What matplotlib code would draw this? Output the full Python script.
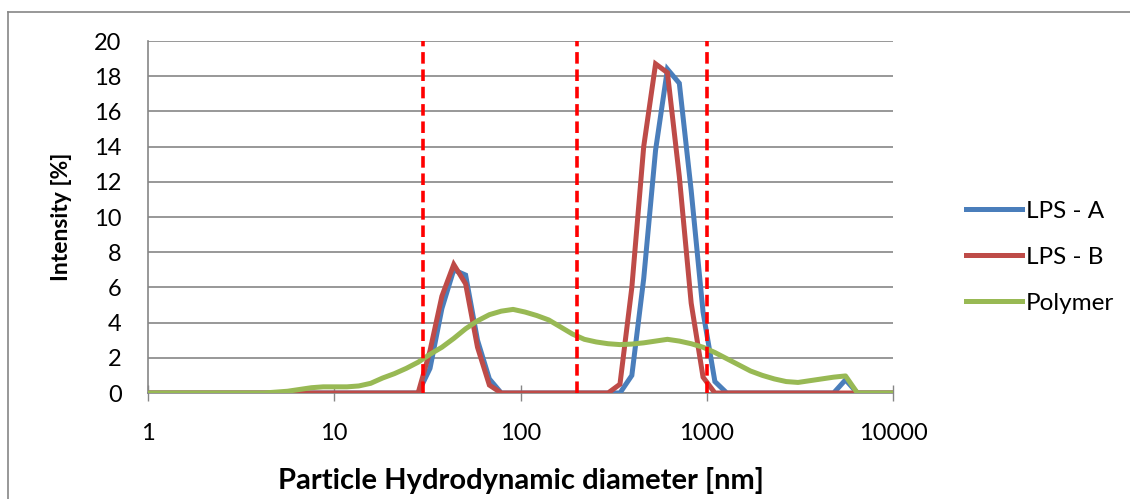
"""DLS intensity size distributions for LPS samples and the polymer."""

import matplotlib
matplotlib.use("Agg")
import matplotlib.pyplot as plt
from matplotlib.lines import Line2D
from matplotlib.ticker import FixedLocator, NullLocator

plt.rcParams["font.family"] = ["Lato", "DejaVu Sans"]

# Size classes of the instrument (nm)
SIZES_NM = [
    0.9649, 1.117, 1.294, 1.499, 1.736, 2.010, 2.328, 2.696,
    3.122, 3.615, 4.187, 4.849, 5.615, 6.503, 7.531, 8.721,
    10.10, 11.70, 13.54, 15.69, 18.17, 21.04, 24.36, 28.21,
    32.67, 37.84, 43.82, 50.75, 58.77, 68.06, 78.82, 91.28,
    105.7, 122.4, 141.8, 164.2, 190.1, 220.2, 255.0, 295.3,
    342.0, 396.1, 458.7, 531.2, 615.1, 712.4, 825.0, 955.4,
    1106, 1281, 1484, 1718, 1990, 2305, 2669, 3091,
    3580, 4145, 4801, 5560, 6439, 7456, 8635, 10000,
]

LPS_A = [
    0, 0, 0, 0, 0, 0, 0, 0,
    0, 0, 0, 0, 0, 0, 0, 0,
    0, 0, 0, 0, 0, 0, 0, 0,
    1.4, 4.8, 7.0, 6.7, 3.0, 0.8, 0, 0,
    0, 0, 0, 0, 0, 0, 0, 0,
    0, 1.0, 6.5, 13.8, 18.4, 17.6, 11.5, 4.6,
    0.65, 0, 0, 0, 0, 0, 0, 0,
    0, 0, 0, 0.75, 0, 0, 0, 0,
]

LPS_B = [
    0, 0, 0, 0, 0, 0, 0, 0,
    0, 0, 0, 0, 0, 0, 0, 0,
    0, 0, 0, 0, 0, 0, 0, 0,
    2.4, 5.5, 7.3, 6.2, 2.6, 0.45, 0, 0,
    0, 0, 0, 0, 0, 0, 0, 0,
    0.5, 6.0, 14.0, 18.7, 18.2, 12.3, 5.1, 0.9,
    0, 0, 0, 0, 0, 0, 0, 0,
    0, 0, 0, 0, 0, 0, 0, 0,
]

POLYMER = [
    0, 0, 0, 0, 0, 0, 0, 0,
    0, 0, 0, 0.05, 0.1, 0.2, 0.3, 0.35,
    0.35, 0.35, 0.4, 0.55, 0.85, 1.1, 1.4, 1.75,
    2.2, 2.6, 3.1, 3.65, 4.1, 4.45, 4.65, 4.75,
    4.6, 4.4, 4.15, 3.75, 3.35, 3.05, 2.9, 2.8,
    2.75, 2.78, 2.85, 2.95, 3.05, 2.95, 2.8, 2.6,
    2.3, 1.95, 1.6, 1.25, 1.0, 0.8, 0.65, 0.6,
    0.7, 0.8, 0.9, 0.97, 0, 0, 0, 0,
]

# Size cut-offs marked on the plot (nm)
CUTOFFS_NM = [30, 200, 1000]

X_TICKS = [1, 10, 100, 1000, 10000]
Y_TICKS = list(range(0, 21, 2))

BLUE = "#4A7EBB"
RED = "#BE4B48"
GREEN = "#98B954"
GRID = "#868686"

fig = plt.figure(figsize=(11.3, 4.99), dpi=100)
ax = fig.add_axes([148 / 1130, 1 - 393 / 499, (893 - 148) / 1130, (393 - 41) / 499])

ax.plot(SIZES_NM, LPS_A, color=BLUE, lw=3.6, label="LPS - A", solid_joinstyle="miter", zorder=3)
ax.plot(SIZES_NM, LPS_B, color=RED, lw=3.6, label="LPS - B", solid_joinstyle="miter", zorder=4)
ax.plot(SIZES_NM, POLYMER, color=GREEN, lw=3.6, label="Polymer", zorder=5)

for c in CUTOFFS_NM:
    ax.axvline(c, color="#FF0000", lw=2.6, dashes=(3.2, 1.6), zorder=6)

ax.set_xscale("log")
ax.set_xlim(1, 10000)
ax.set_ylim(0, 20)
ax.xaxis.set_major_locator(FixedLocator(X_TICKS))
ax.xaxis.set_minor_locator(NullLocator())
ax.set_xticklabels([str(t) for t in X_TICKS])
ax.set_yticks(Y_TICKS)

ax.grid(axis="y", color=GRID, lw=1.2, zorder=0)
for side in ("top", "right"):
    ax.spines[side].set_visible(False)
for side in ("left", "bottom"):
    ax.spines[side].set_color(GRID)
    ax.spines[side].set_linewidth(1.2)

ax.tick_params(axis="x", direction="inout", length=11, width=1, color=GRID,
               labelsize=17, pad=16)
ax.tick_params(axis="y", length=0, labelsize=17, pad=19)

ax.set_xlabel("Particle Hydrodynamic diameter [nm]", fontsize=21, fontweight="bold", labelpad=17)
ax.set_ylabel("Intensity [%]", fontsize=16.5, fontweight="bold", labelpad=16)

ax.legend(loc="upper left", bbox_to_anchor=(956 / 1130, 1 - 191 / 499),
          bbox_transform=fig.transFigure, frameon=False, fontsize=17.5,
          handlelength=2.3, handletextpad=0.17, labelspacing=1.03, borderaxespad=0)

# chart frame (left and top edges)
fig.add_artist(Line2D([8 / 1130, 8 / 1130], [0, 1 - 12 / 499], transform=fig.transFigure,
                      color=GRID, lw=1.2))
fig.add_artist(Line2D([8 / 1130, 1], [1 - 12 / 499, 1 - 12 / 499], transform=fig.transFigure,
                      color=GRID, lw=1.2))

fig.savefig("out.png", dpi=100, facecolor="white")
